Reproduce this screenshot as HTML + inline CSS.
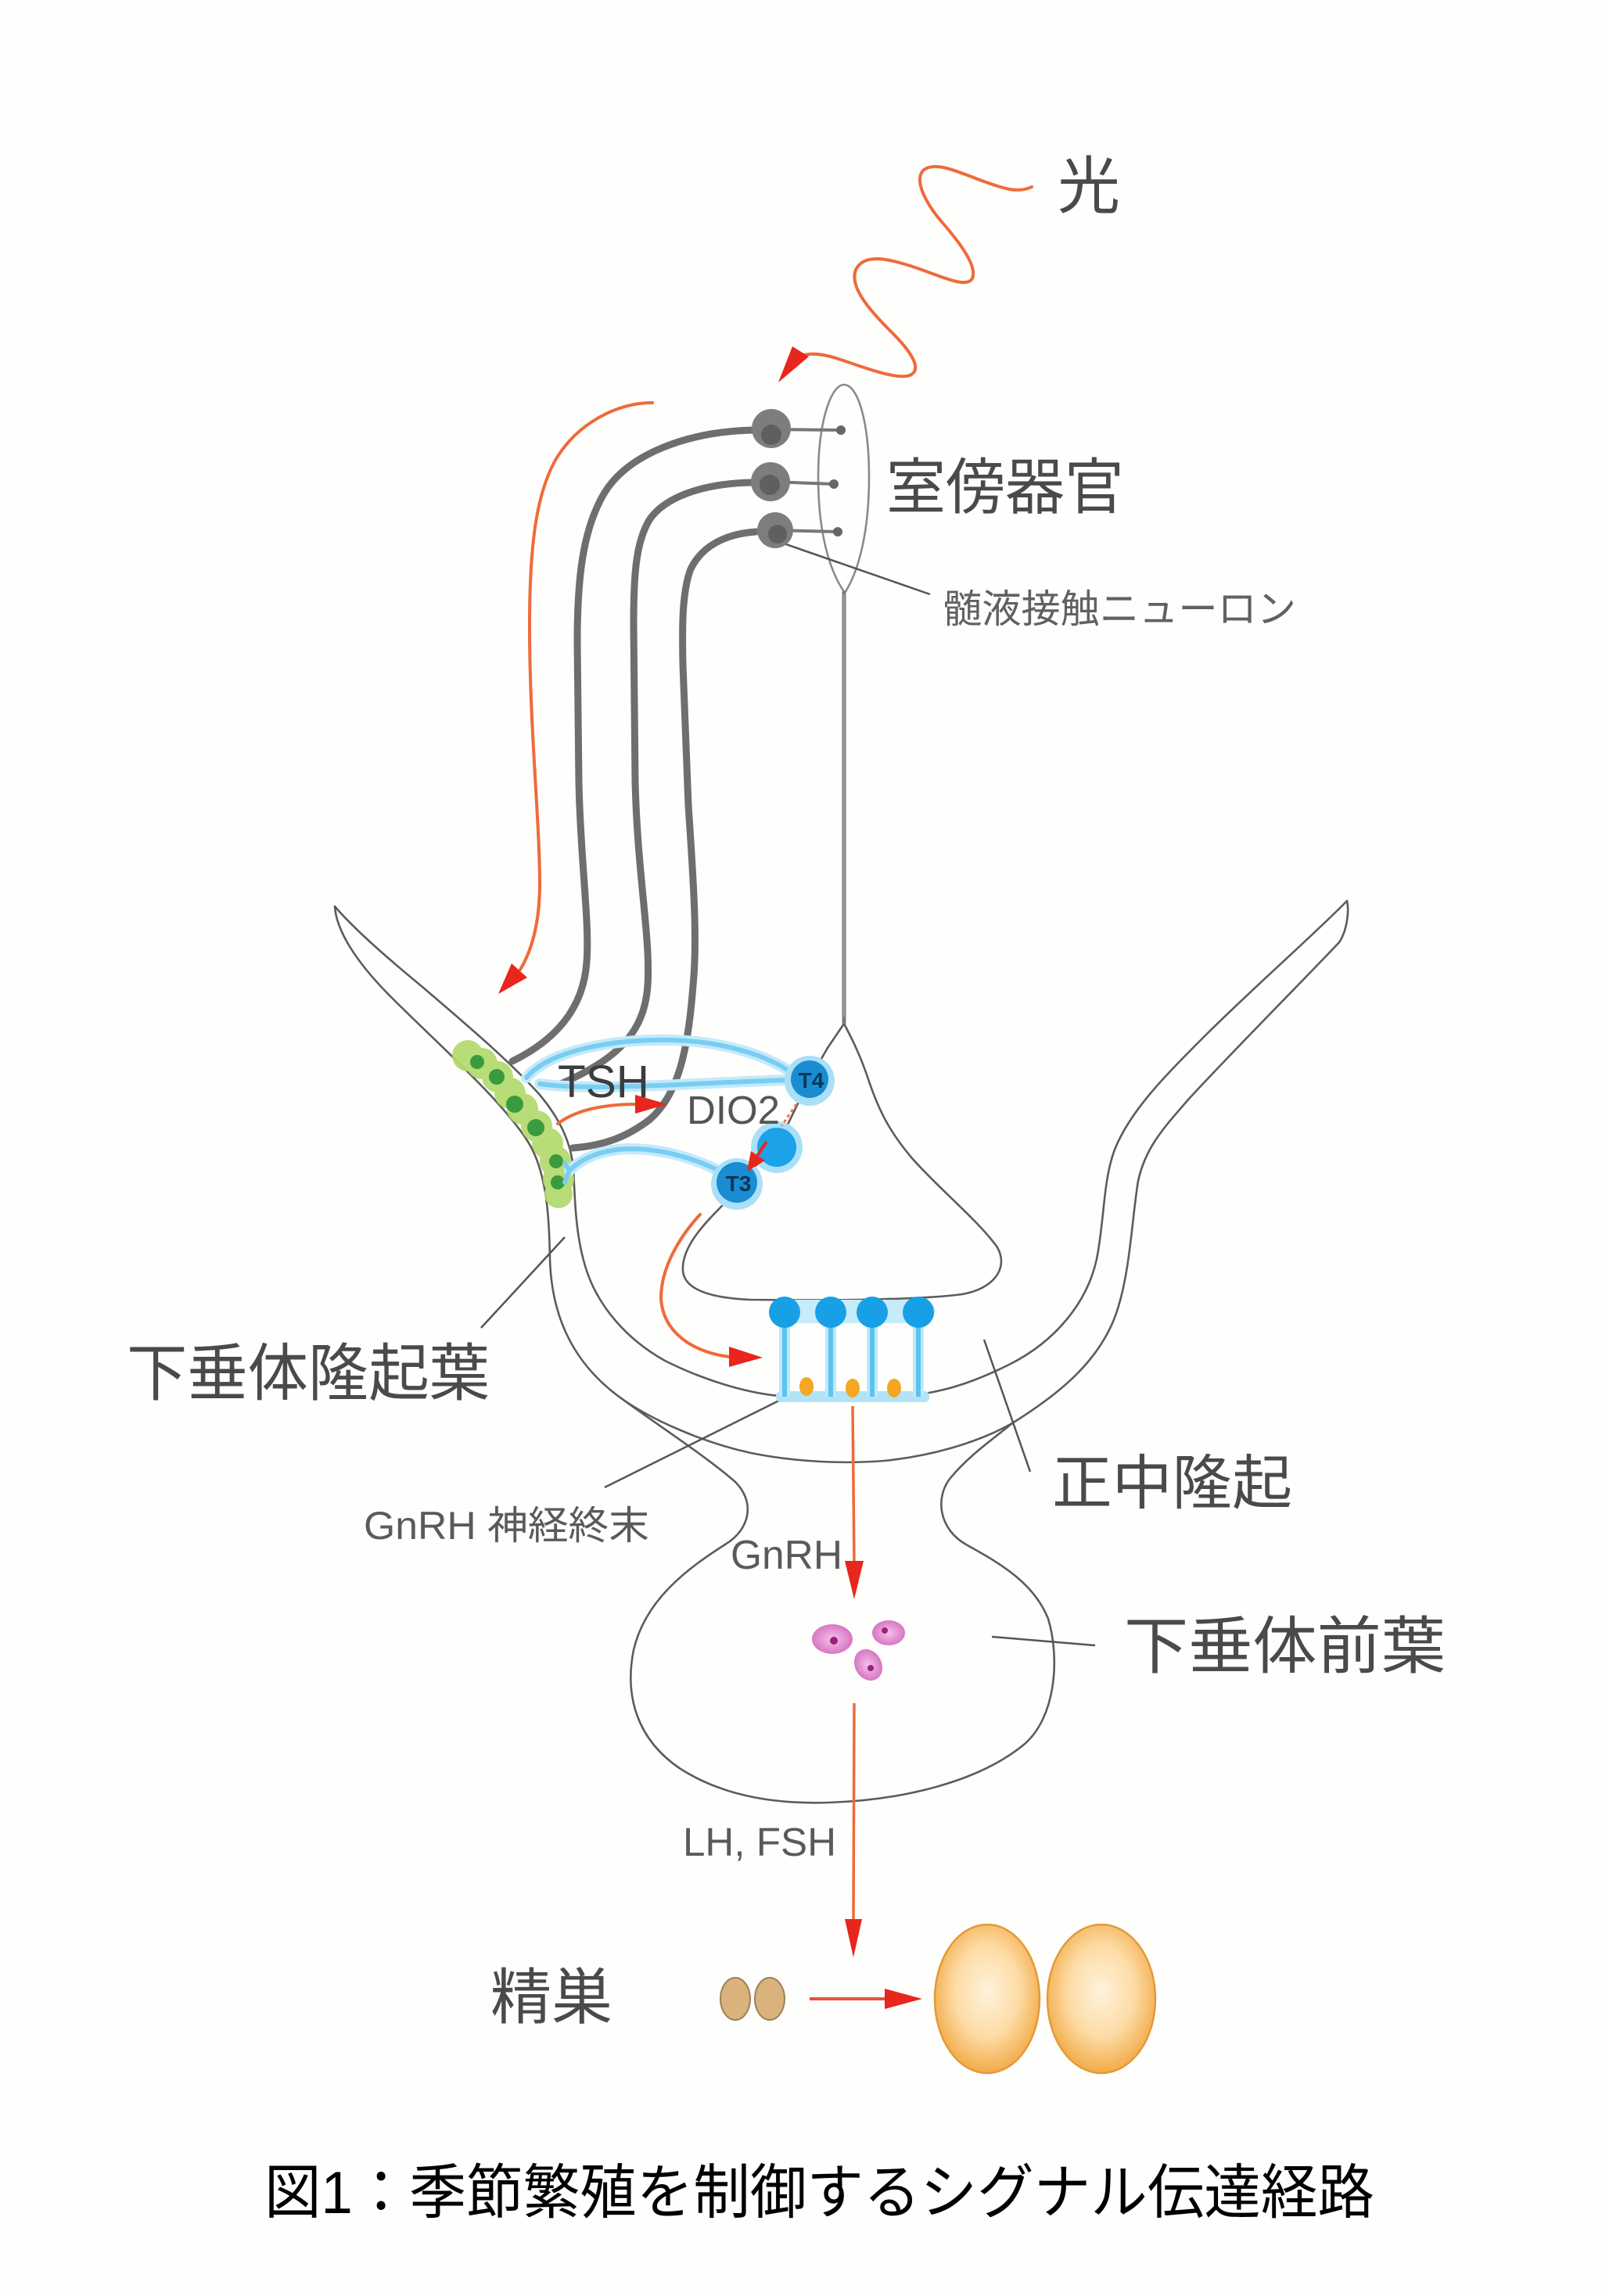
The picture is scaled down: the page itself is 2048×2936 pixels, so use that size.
<!DOCTYPE html>
<html>
<head>
<meta charset="utf-8">
<style>
  html,body{margin:0;padding:0;background:#fefefd;}
  body{width:2048px;height:2936px;overflow:hidden;}
  svg{display:block;}
  .jp{font-family:"Liberation Sans","Noto Sans CJK JP",sans-serif;}
</style>
</head>
<body>
<svg width="2048" height="2936" viewBox="0 0 2048 2936" xmlns="http://www.w3.org/2000/svg">
  <defs>
    <radialGradient id="testis" cx="50%" cy="45%" r="55%">
      <stop offset="0" stop-color="#fff2dc"/>
      <stop offset="0.55" stop-color="#fddca6"/>
      <stop offset="1" stop-color="#f2ab48"/>
    </radialGradient>
    <radialGradient id="pink" cx="50%" cy="50%" r="55%">
      <stop offset="0" stop-color="#f6c2e8"/>
      <stop offset="1" stop-color="#d46ec0"/>
    </radialGradient>
    <radialGradient id="gcell" cx="50%" cy="50%" r="50%">
      <stop offset="0" stop-color="#6a6a6a"/>
      <stop offset="1" stop-color="#858585"/>
    </radialGradient>
  </defs>
  <rect width="2048" height="2936" fill="#fefefd"/>

  <!-- ============ Anatomical outlines ============ -->
  <g fill="none" stroke="#5c5c5c" stroke-width="2.6" stroke-linecap="round" stroke-linejoin="round">
    <!-- Outer contour: left horn lower edge -> pituitary -> right horn lower edge -->
    <path d="M428,1159 C430,1190 455,1230 500,1275 C560,1335 640,1405 675,1460 C700,1500 702,1560 703,1610 C705,1680 730,1740 790,1785
             C830,1815 900,1860 940,1895 C965,1920 960,1955 927,1975 C880,2005 825,2045 810,2110 C798,2170 815,2225 870,2262
             C930,2300 1000,2307 1060,2305 C1150,2302 1250,2280 1310,2230 C1350,2195 1355,2120 1340,2070 C1320,2020 1270,1995 1235,1975
             C1200,1955 1195,1915 1215,1890 C1240,1860 1270,1840 1294,1820
             C1350,1785 1410,1740 1430,1670 C1445,1620 1447,1560 1455,1510 C1465,1465 1490,1440 1520,1405
             C1580,1340 1660,1260 1712,1205 C1722,1190 1725,1165 1722,1152"/>
    <!-- Inner contour: left horn upper edge -> inner U -> right horn upper edge -->
    <path d="M428,1159 C450,1185 495,1225 540,1262 C590,1305 650,1355 690,1400 C715,1430 730,1460 733,1495
             C735,1530 735,1580 750,1625 C765,1670 800,1712 850,1740 C900,1765 960,1784 1010,1786 L1150,1786
             C1200,1782 1240,1770 1290,1745 C1350,1715 1390,1665 1402,1610 C1412,1560 1410,1510 1425,1470
             C1445,1420 1490,1375 1540,1325 C1600,1265 1680,1195 1722,1152"/>
    <!-- Outer U arc (median eminence floor) -->
    <path d="M790,1785 C830,1815 900,1845 960,1858 C1020,1870 1080,1872 1130,1868 C1190,1862 1250,1845 1294,1820"/>
    <!-- Third ventricle bell -->
    <path d="M1079,1309 C1090,1330 1100,1350 1110,1380 C1125,1425 1140,1450 1165,1480 C1200,1520 1250,1560 1275,1595
             C1290,1622 1270,1648 1230,1655 C1170,1663 1040,1663 960,1662 C910,1660 875,1650 873,1625
             C871,1595 900,1565 925,1540 L942,1512 L993,1467 L1035,1380 L1058,1340 Z"/>
  </g>

  <!-- Organ (室傍器官) teardrop and stalk -->
  <path d="M1080,758 C1060,730 1046,680 1046,610 C1046,540 1062,492 1079,492 C1097,492 1111,540 1111,610 C1111,680 1098,730 1080,758 Z"
        fill="none" stroke="#8a8a8a" stroke-width="2.6"/>
  <line x1="1079" y1="756" x2="1079" y2="1310" stroke="#7a7a7a" stroke-width="5"/>
  <line x1="1079" y1="760" x2="1079" y2="1300" stroke="#b8b8b8" stroke-width="1.2"/>

  <!-- ============ Leader lines ============ -->
  <g stroke="#555" stroke-width="2.5" fill="none">
    <line x1="1002" y1="695" x2="1189" y2="760"/>
    <line x1="722" y1="1582" x2="615" y2="1698"/>
    <line x1="1258" y1="1713" x2="1317" y2="1882"/>
    <line x1="1008" y1="1785" x2="773" y2="1902"/>
    <line x1="1268" y1="2093" x2="1400" y2="2104"/>
  </g>

  <!-- ============ Light wave ============ -->
  <path d="M1319,239 C1300,248 1280,240 1255,231 C1225,220 1195,205 1180,218 C1168,232 1185,262 1205,285 C1225,308 1250,340 1243,356
           C1236,370 1200,352 1170,342 C1140,332 1105,322 1094,345 C1085,368 1115,400 1140,425 C1160,445 1180,470 1165,479
           C1150,488 1100,468 1075,460 C1055,453 1035,450 1022,456"
        fill="none" stroke="#ef6a3a" stroke-width="4" stroke-linecap="round"/>
  <polygon points="1013,443 1034,456 995,489" fill="#e8261c"/>

  <!-- ============ Long orange arrow ============ -->
  <path d="M834,515 C790,515 740,540 712,585 C685,630 677,700 677,800 C677,930 690,1050 690,1130 C690,1180 680,1215 665,1240"
        fill="none" stroke="#ef6a3a" stroke-width="4" stroke-linecap="round"/>
  <polygon points="674,1250 654,1232 637,1271" fill="#e8261c"/>

  <!-- ============ CSF-contacting neurons: axons ============ -->
  <g fill="none" stroke="#6e6e6e" stroke-width="9" stroke-linecap="round">
    <path d="M962,550 C880,552 800,580 770,635 C745,680 738,740 738,820 L740,1000 C742,1100 754,1180 750,1230 C746,1290 710,1330 655,1357"/>
    <path d="M962,617 C900,618 850,635 830,665 C812,695 810,740 810,800 L812,1000 C815,1120 832,1200 828,1260 C824,1320 790,1355 712,1388"/>
    <path d="M966,680 C925,683 895,700 882,730 C872,760 872,800 873,850 L880,1030 C886,1120 892,1200 886,1260 C880,1340 868,1400 830,1432 C800,1455 770,1465 732,1468"/>
  </g>
  <!-- dendrites -->
  <g stroke="#777" stroke-width="4">
    <line x1="986" y1="549" x2="1075" y2="550"/>
    <line x1="985" y1="616" x2="1066" y2="619"/>
    <line x1="991" y1="678" x2="1071" y2="680"/>
  </g>
  <g fill="#666">
    <circle cx="1075" cy="550" r="6"/>
    <circle cx="1066" cy="619" r="6"/>
    <circle cx="1071" cy="680" r="6"/>
  </g>
  <!-- cell bodies -->
  <g>
    <circle cx="986" cy="548" r="25" fill="#7d7d7d"/>
    <circle cx="986" cy="556" r="13" fill="#5f5f5f"/>
    <circle cx="985" cy="616" r="25" fill="#7d7d7d"/>
    <circle cx="984" cy="620" r="13" fill="#5f5f5f"/>
    <circle cx="991" cy="678" r="23" fill="#7d7d7d"/>
    <circle cx="994" cy="683" r="12" fill="#5f5f5f"/>
  </g>

  <!-- ============ Green cells (pars tuberalis) ============ -->
  <g fill="#b3da6c" opacity="0.92">
    <circle cx="598" cy="1350" r="20"/>
    <circle cx="616" cy="1360" r="20"/>
    <circle cx="636" cy="1377" r="20"/>
    <circle cx="652" cy="1398" r="20"/>
    <circle cx="668" cy="1418" r="20"/>
    <circle cx="686" cy="1440" r="20"/>
    <circle cx="700" cy="1462" r="20"/>
    <circle cx="710" cy="1485" r="20"/>
    <circle cx="714" cy="1508" r="20"/>
    <circle cx="714" cy="1527" r="18"/>
  </g>
  <g fill="#3a9b3c">
    <circle cx="610" cy="1358" r="9"/>
    <circle cx="635" cy="1377" r="10"/>
    <circle cx="658" cy="1412" r="11"/>
    <circle cx="685" cy="1442" r="11"/>
    <circle cx="711" cy="1485" r="9"/>
    <circle cx="713" cy="1512" r="9"/>
  </g>

  <!-- ============ Tanycyte processes (blue) ============ -->
  <g fill="none" stroke-linecap="round">
    <g stroke="#c3eafb" stroke-width="14">
      <path d="M673,1378 C700,1345 780,1328 860,1330 C930,1332 985,1352 1012,1372"/>
      <path d="M690,1386 C760,1396 900,1384 1008,1381"/>
      <path d="M728,1497 C745,1480 770,1470 805,1469 C850,1469 890,1482 925,1500"/>
    </g>
    <g stroke="#79cdf2" stroke-width="6">
      <path d="M673,1378 C700,1345 780,1328 860,1330 C930,1332 985,1352 1012,1372"/>
      <path d="M690,1386 C760,1396 900,1384 1008,1381"/>
      <path d="M728,1497 C745,1480 770,1470 805,1469 C850,1469 890,1482 925,1500"/>
      <path d="M728,1497 L722,1487"/>
      <path d="M728,1497 L722,1512"/>
    </g>
  </g>
  <!-- tanycyte cell chain -->
  <g>
    <circle cx="1035" cy="1382" r="32" fill="#a9e0f8"/>
    <circle cx="993" cy="1467" r="33" fill="#a9e0f8"/>
    <circle cx="942" cy="1514" r="33" fill="#a9e0f8"/>
    <circle cx="1035" cy="1380" r="24" fill="#1a8cd2"/>
    <circle cx="993" cy="1467" r="25" fill="#1ba2e8"/>
    <circle cx="942" cy="1512" r="26" fill="#1a8cd2"/>
  </g>
  <line x1="1018" y1="1412" x2="999" y2="1440" stroke="#ef7a40" stroke-width="3" stroke-dasharray="4 4"/>
  <line x1="980" y1="1460" x2="968" y2="1478" stroke="#e8261c" stroke-width="4"/>
  <polygon points="960,1472 978,1484 955,1498" fill="#e8261c"/>
  <text x="1037" y="1391" font-family="Liberation Sans, sans-serif" font-size="28" font-weight="bold" fill="#0c3756" text-anchor="middle">T4</text>
  <text x="944" y="1523" font-family="Liberation Sans, sans-serif" font-size="28" font-weight="bold" fill="#0c3756" text-anchor="middle">T3</text>

  <!-- TSH -> DIO2 arrow -->
  <path d="M713,1437 C735,1420 770,1412 815,1412" fill="none" stroke="#ef6a3a" stroke-width="4" stroke-linecap="round"/>
  <polygon points="812,1400 812,1424 853,1412" fill="#e8261c"/>

  <!-- T3 -> GnRH neurons arrow -->
  <path d="M895,1553 C870,1580 845,1620 845,1660 C847,1700 880,1728 932,1735" fill="none" stroke="#ef6a3a" stroke-width="4" stroke-linecap="round"/>
  <polygon points="932,1722 932,1748 975,1736" fill="#e8261c"/>

  <!-- ============ GnRH neurons / terminals ============ -->
  <rect x="985" y="1662" width="210" height="30" rx="14" fill="#c6ebfb"/>
  <rect x="992" y="1779" width="196" height="14" rx="6" fill="#b3e2f8"/>
  <g stroke="#bfe8fa" stroke-width="14">
    <line x1="1003" y1="1680" x2="1003" y2="1786"/>
    <line x1="1062" y1="1680" x2="1062" y2="1786"/>
    <line x1="1115" y1="1680" x2="1115" y2="1786"/>
    <line x1="1174" y1="1680" x2="1174" y2="1786"/>
  </g>
  <g stroke="#5cc3ee" stroke-width="6">
    <line x1="1003" y1="1680" x2="1003" y2="1786"/>
    <line x1="1062" y1="1680" x2="1062" y2="1786"/>
    <line x1="1115" y1="1680" x2="1115" y2="1786"/>
    <line x1="1174" y1="1680" x2="1174" y2="1786"/>
  </g>
  <g fill="#18a0e6">
    <circle cx="1003" cy="1678" r="20"/>
    <circle cx="1062" cy="1678" r="20"/>
    <circle cx="1115" cy="1678" r="20"/>
    <circle cx="1174" cy="1678" r="20"/>
  </g>
  <g fill="#f5a623">
    <ellipse cx="1031" cy="1773" rx="9" ry="12"/>
    <ellipse cx="1090" cy="1775" rx="9" ry="12"/>
    <ellipse cx="1143" cy="1775" rx="9" ry="12"/>
  </g>

  <!-- ============ Vertical arrows ============ -->
  <line x1="1090" y1="1798" x2="1092" y2="2000" stroke="#ef6a3a" stroke-width="3.5"/>
  <polygon points="1080,1996 1104,1996 1092,2045" fill="#e8261c"/>
  <line x1="1092" y1="2178" x2="1091" y2="2458" stroke="#ef6a3a" stroke-width="3.5"/>
  <polygon points="1080,2454 1102,2454 1091,2503" fill="#e8261c"/>

  <!-- pituitary cells -->
  <g>
    <ellipse cx="1064" cy="2096" rx="26" ry="19" fill="url(#pink)"/>
    <ellipse cx="1136" cy="2088" rx="21" ry="16" fill="url(#pink)"/>
    <ellipse cx="1110" cy="2129" rx="17" ry="21" fill="url(#pink)" transform="rotate(-30 1110 2129)"/>
    <circle cx="1066" cy="2098" r="5" fill="#9c1f7e"/>
    <circle cx="1131" cy="2085" r="4" fill="#9c1f7e"/>
    <circle cx="1113" cy="2133" r="4" fill="#9c1f7e"/>
  </g>

  <!-- ============ Testes ============ -->
  <ellipse cx="940" cy="2556" rx="19" ry="27" fill="#d9b27c" stroke="#9d8058" stroke-width="2"/>
  <ellipse cx="984" cy="2556" rx="19" ry="27" fill="#d9b27c" stroke="#9d8058" stroke-width="2"/>
  <line x1="1035" y1="2556" x2="1135" y2="2556" stroke="#e0553a" stroke-width="4"/>
  <polygon points="1131,2543 1131,2569 1179,2556" fill="#e8261c"/>
  <ellipse cx="1262" cy="2556" rx="67" ry="95" fill="url(#testis)" stroke="#e29a38" stroke-width="2.5"/>
  <ellipse cx="1408" cy="2556" rx="69" ry="95" fill="url(#testis)" stroke="#e29a38" stroke-width="2.5"/>

  <!-- ============ Labels ============ -->
  <g class="jp" fill="#4a4a4a">
    <text x="1352" y="266" font-size="80" textLength="80" lengthAdjust="spacingAndGlyphs">光</text>
    <text x="1133" y="650" font-size="78" textLength="304" lengthAdjust="spacingAndGlyphs">室傍器官</text>
    <text x="1205" y="796" font-size="50" textLength="452" lengthAdjust="spacingAndGlyphs" fill="#616161">髄液接触ニューロン</text>
    <text x="162" y="1784" font-size="80" textLength="464" lengthAdjust="spacingAndGlyphs">下垂体隆起葉</text>
    <text x="1345" y="1923" font-size="76" textLength="307" lengthAdjust="spacingAndGlyphs">正中隆起</text>
    <text x="1437" y="2133" font-size="80" textLength="411" lengthAdjust="spacingAndGlyphs">下垂体前葉</text>
    <text x="627" y="2581" font-size="78" textLength="156" lengthAdjust="spacingAndGlyphs">精巣</text>
    <text x="465" y="1968" font-size="50" textLength="365" lengthAdjust="spacingAndGlyphs" fill="#5a5a5a">GnRH 神経終末</text>
    <text x="934" y="2006" font-size="52" textLength="143" lengthAdjust="spacingAndGlyphs" fill="#5a5a5a">GnRH</text>
    <text x="873" y="2373" font-size="51" textLength="196" lengthAdjust="spacingAndGlyphs" fill="#5a5a5a">LH, FSH</text>
    <text x="713" y="1403" font-size="58" textLength="117" lengthAdjust="spacingAndGlyphs" fill="#3c3c3c">TSH</text>
    <text x="878" y="1437" font-size="51" textLength="119" lengthAdjust="spacingAndGlyphs" fill="#555">DIO2</text>
  </g>

  <!-- Caption -->
  <text class="jp" x="338" y="2830" font-size="76" textLength="1419" lengthAdjust="spacingAndGlyphs" fill="#000">図1：季節繁殖を制御するシグナル伝達経路</text>
</svg>
</body>
</html>
